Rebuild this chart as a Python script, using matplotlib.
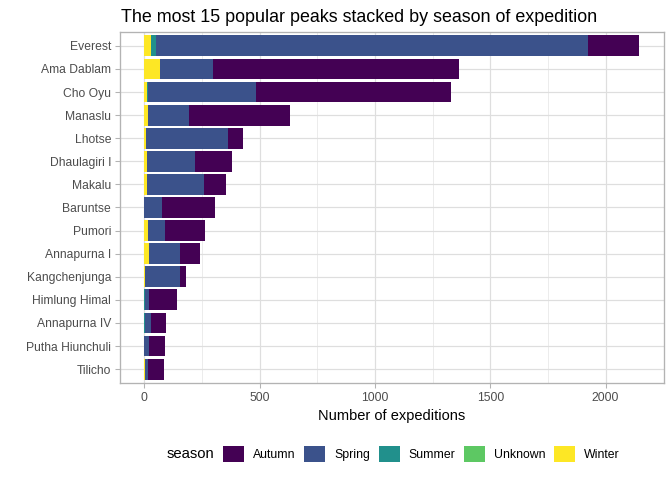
import numpy as np
import matplotlib
matplotlib.use("Agg")
import matplotlib.pyplot as plt
from matplotlib.patches import Patch

plt.rcParams['font.family'] = ['Liberation Sans', 'DejaVu Sans']

# peaks, top to bottom
peaks = ['Everest', 'Ama Dablam', 'Cho Oyu', 'Manaslu', 'Lhotse', 'Dhaulagiri I',
         'Makalu', 'Baruntse', 'Pumori', 'Annapurna I', 'Kangchenjunga',
         'Himlung Himal', 'Annapurna IV', 'Putha Hiunchuli', 'Tilicho']

seasons = ['Autumn', 'Spring', 'Summer', 'Unknown', 'Winter']
season_colors = ['#440154', '#3B528B', '#21908C', '#5DC863', '#FDE725']

autumn = [221, 1066, 846, 438, 65, 160, 94, 230, 173, 87, 26, 121, 65, 69, 69]
spring = [1874, 230, 470, 178, 357, 208, 247, 77, 74, 134, 152, 20, 26, 20, 13]
summer = [21, 0, 4, 0, 0, 0, 0, 0, 0, 0, 0, 2, 2, 0, 0]
unknown = [0, 0, 0, 0, 0, 0, 0, 0, 0, 0, 0, 0, 0, 0, 0]
winter = [29, 68, 10, 16, 6, 12, 12, 0, 16, 21, 2, 0, 0, 0, 2]

xticks = [0, 500, 1000, 1500, 2000]

fig = plt.figure(figsize=(7, 5), dpi=96)
W, H = 672, 480
ax = fig.add_axes([119.7 / W, (H - 383) / H, (663.7 - 119.7) / W, (383 - 32) / H])

y = np.arange(len(peaks))[::-1] + 1
# ggplot stacks the last level closest to zero
stack = [winter, unknown, summer, spring, autumn]
stack_colors = season_colors[::-1]
left = np.zeros(len(peaks))
for vals, col in zip(stack, stack_colors):
    vals = np.array(vals, dtype=float)
    ax.barh(y, vals, left=left, height=0.9, color=col, zorder=3)
    left += vals

total = left.max()
ax.set_xlim(-0.05 * total, 1.05 * total)
ax.set_ylim(0.4, len(peaks) + 0.6)
ax.set_yticks(y)
ax.set_yticklabels(peaks)
ax.set_xticks(xticks)
ax.set_xticks([250, 750, 1250, 1750], minor=True)

ax.grid(True, which='major', color='#DEDEDE', lw=0.9, zorder=0)
ax.grid(True, which='minor', axis='x', color='#E8E8E8', lw=0.6, zorder=0)
for s in ax.spines.values():
    s.set_color('#B3B3B3')
    s.set_linewidth(1.0)
ax.tick_params(which='major', colors='#B3B3B3', length=3.5, width=0.8,
               labelcolor='#4D4D4D', labelsize=9.1, pad=3)
ax.tick_params(which='minor', length=0)

ax.set_xlabel('Number of expeditions', fontsize=11, color='black', labelpad=4)

fig.text(121 / W, 1 - 22 / H, 'The most 15 popular peaks stacked by season of expedition',
         fontsize=13.4, va='baseline', ha='left')

# legend at bottom
fig.text(167 / W, 1 - 454 / H, 'season', fontsize=11.2, va='center', ha='left')
handles = [Patch(facecolor=c, edgecolor='none') for c in season_colors]
fig.legend(handles, seasons, loc='center left', bbox_to_anchor=(223 / W, 1 - 454 / H),
           ncol=5, frameon=False, fontsize=9.2, handlelength=1.7, handleheight=1.7,
           handletextpad=0.75, columnspacing=0.7, borderpad=0, borderaxespad=0)

fig.savefig('out.png', dpi=96)
